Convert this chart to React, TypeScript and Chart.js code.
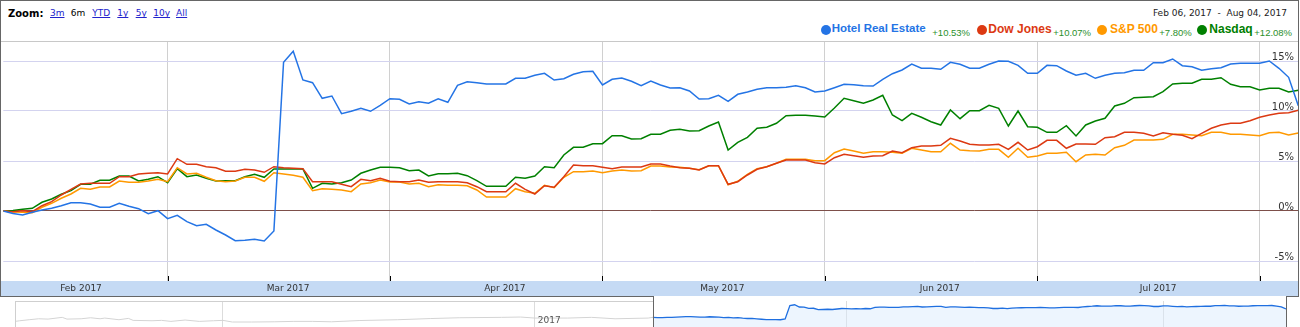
import React, { useEffect, useRef } from 'react';
import { Chart, registerables } from 'chart.js';

Chart.register(...registerables);

// ---------- data (percent change since Feb 06, 2017; one value per trading session) ----------
const hotelRealEstate = [
  0, -0.25, -0.4, -0.13, 0.1, 0.27, 0.53, 0.83, 0.83, 0.7,
  0.37, 0.37, 0.77, 0.47, 0.23, -0.27, 0.03, -0.77, -0.43, -1.07,
  -1.47, -1.33, -1.9, -2.4, -2.97, -2.93, -2.83, -3.0, -2.0, 14.87,
  15.97, 13.1, 12.83, 11.27, 11.5, 9.73, 9.97, 10.27, 9.97, 10.57,
  11.23, 11.17, 10.7, 10.93, 10.77, 11.23, 10.87, 12.57, 12.93, 12.83,
  12.7, 12.7, 12.7, 13.27, 13.27, 13.57, 13.77, 13.1, 13.23, 13.67,
  13.93, 13.97, 12.6, 13.17, 13.3, 12.97, 12.53, 13.0, 12.6, 12.3,
  12.33, 12.0, 11.2, 11.23, 11.57, 10.97, 11.67, 11.9, 12.17, 12.33,
  12.33, 12.37, 12.53, 12.33, 11.9, 12.0, 12.33, 12.67, 12.63, 12.53,
  12.5, 13.17, 13.73, 14.1, 14.7, 14.27, 14.27, 14.17, 14.87, 14.67,
  14.27, 14.27, 14.67, 15.0, 14.97, 14.57, 13.77, 13.77, 14.57, 14.53,
  14.0, 13.57, 13.77, 13.27, 13.57, 13.77, 13.83, 14.07, 14.07, 14.83,
  14.83, 15.2, 14.53, 14.43, 14.07, 14.23, 14.33, 14.7, 14.77, 14.77,
  14.77, 15.0, 14.27, 13.37, 10.53,
];
const dowJones = [
  0, -0.07, 0.03, -0.07, 0.53, 0.93, 1.6, 2.17, 2.7, 2.77,
  2.77, 2.77, 3.43, 3.43, 3.7, 3.77, 3.83, 3.7, 5.23, 4.67,
  4.67, 4.43, 4.33, 3.97, 3.97, 4.17, 4.1, 3.87, 4.43, 4.33,
  4.27, 4.23, 2.93, 2.93, 2.93, 2.67, 2.43, 3.17, 3.03, 3.27,
  2.97, 2.93, 2.93, 3.1, 2.87, 2.93, 2.93, 2.93, 2.83, 2.43,
  1.93, 1.93, 1.93, 2.77, 2.17, 1.7, 2.53, 2.37, 3.43, 4.6,
  4.53, 4.53, 4.37, 4.23, 4.4, 4.4, 4.4, 4.7, 4.7, 4.5,
  4.33, 4.27, 4.1, 4.53, 4.53, 2.67, 2.93, 3.6, 4.17, 4.43,
  4.77, 5.1, 5.1, 5.1, 4.83, 4.7, 5.33, 5.67, 5.53, 5.37,
  5.5, 5.53, 6.0, 5.83, 6.33, 6.5, 6.5, 6.57, 7.27, 7.0,
  6.67, 6.6, 6.6, 6.67, 6.17, 6.87, 6.1, 6.43, 7.07, 7.07,
  6.27, 6.7, 6.7, 6.67, 7.33, 7.43, 7.87, 7.87, 7.77, 7.5,
  7.83, 7.67, 7.57, 7.23, 7.77, 8.27, 8.6, 8.77, 8.77, 9.03,
  9.37, 9.6, 9.77, 9.83, 10.07,
];
const sp500 = [
  0, -0.1, -0.13, -0.17, 0.37, 0.77, 1.27, 1.7, 2.27, 2.17,
  2.4, 2.4, 3.0, 2.87, 2.87, 3.0, 3.17, 2.93, 4.33, 3.7,
  3.77, 3.37, 3.03, 2.93, 3.0, 3.37, 3.37, 2.97, 3.83, 3.7,
  3.57, 3.37, 2.03, 2.23, 2.17, 2.1, 1.93, 2.7, 2.83, 3.1,
  2.9, 2.9, 2.7, 2.77, 2.43, 2.63, 2.57, 2.57, 2.53, 2.1,
  1.4, 1.4, 1.4, 2.23, 1.93, 1.77, 2.57, 2.33, 3.37, 3.93,
  3.93, 4.0, 3.83, 4.0, 4.1, 4.0, 4.03, 4.5, 4.5, 4.4,
  4.37, 4.27, 4.13, 4.53, 4.53, 2.63, 2.97, 3.67, 4.23, 4.43,
  4.77, 5.17, 5.17, 5.17, 5.03, 5.03, 5.83, 6.2, 6.0, 5.77,
  5.93, 5.93, 5.87, 5.77, 6.27, 6.1, 5.93, 5.93, 6.77, 6.1,
  6.03, 6.0, 6.17, 6.17, 5.37, 6.27, 5.37, 5.5, 5.77, 5.77,
  5.87, 4.93, 5.6, 5.67, 5.6, 6.33, 6.57, 7.1, 7.1, 7.1,
  7.17, 7.67, 7.67, 7.6, 7.53, 7.87, 7.87, 7.67, 7.67, 7.6,
  7.53, 7.83, 7.87, 7.6, 7.8,
];
const nasdaq = [
  0, 0.05, 0.17, 0.27, 0.87, 1.2, 1.67, 2.03, 2.67, 2.67,
  3.07, 3.07, 3.5, 3.5, 3.0, 3.17, 3.43, 2.83, 4.23, 3.43,
  3.6, 3.27, 3.0, 3.03, 3.03, 3.43, 3.67, 3.37, 4.2, 4.2,
  4.2, 4.2, 2.27, 2.77, 2.7, 2.83, 3.1, 3.77, 4.1, 4.37,
  4.37, 4.33, 4.03, 4.1, 3.5, 3.73, 3.73, 3.77, 3.53, 3.03,
  2.47, 2.47, 2.47, 3.37, 3.27, 3.5, 4.43, 4.33, 5.6, 6.37,
  6.37, 6.73, 6.73, 7.53, 7.53, 7.2, 7.23, 7.67, 7.67, 8.07,
  8.17, 8.0, 8.03, 8.5, 8.9, 6.1, 6.87, 7.37, 8.27, 8.37,
  8.77, 9.53, 9.57, 9.57, 9.5, 9.4, 10.3, 11.27, 11.03, 10.77,
  11.1, 11.57, 9.6, 9.03, 9.77, 9.37, 8.93, 8.6, 10.1, 9.23,
  10.03, 10.03, 10.57, 10.27, 8.5, 10.0, 8.43, 8.37, 7.87, 7.87,
  8.53, 7.5, 8.6, 9.0, 9.27, 10.5, 10.77, 11.33, 11.37, 11.43,
  11.93, 12.7, 12.77, 12.77, 13.17, 13.17, 13.33, 12.67, 12.43, 12.43,
  12.1, 12.27, 12.27, 11.9, 12.08,
];

const seriesNames = ['Hotel Real Estate', 'Dow Jones', 'S&P 500', 'Nasdaq'];
const seriesChange = ['+10.53%', '+10.07%', '+7.80%', '+12.08%'];
const seriesColors = ['#2474e5', '#dc3912', '#ff9900', '#008000'];

// x axis: session index of the first session of each month, and where month names sit
const monthStartIdx = [17, 40, 62, 85, 107, 130];
const monthLabelIdx = [8.04, 29.46, 51.9, 74.4, 96.9, 119.5];
const monthLabels = ['Feb 2017', 'Mar 2017', 'Apr 2017', 'May 2017', 'Jun 2017', 'Jul 2017'];
const yTicks = [-5, 0, 5, 10, 15];

const zoomLinks = ['3m', '6m', 'YTD', '1y', '5y', '10y', 'All'];
const dateRange = 'Feb 06, 2017  -  Aug 04, 2017';

// navigator: earlier history (session index before Feb 06) and quarter marks
const navPrevIdx = [-135, -134, -132, -130, -128, -125, -124, -121, -119, -117, -116, -113, -111, -110, -106, -104, -102, -99, -96, -93, -91, -89, -85, -80, -76, -72, -68, -62, -54, -47, -41, -32, -28, -25, -18, -13, -8, -1, 0];
const navPrevVal = [-5.1, -4.3, -3.0, -1.8, -2.2, 0, -2.2, -1.8, -0.5, -1.8, -0.9, -3.0, -1.3, -3.8, -4.3, -3.8, -5.1, -3.4, -5.1, -4.3, -3.8, -5.9, -5.9, -5.6, -5.1, -5.1, -5.6, -4.0, -3.0, -1.5, -0.5, 0, 0.4, -0.9, -0.9, 0, -1.8, -0.9, 0];
const navQuarterIdx = [-91, -25, 41, 108];
const navYearIdx = -25;
const navYearLabel = '2017';

const FONT = "'DejaVu Sans', Verdana, sans-serif";
const LEG_FONT = "'Liberation Sans', Arial, sans-serif";

const monthTickMarks = {
  id: 'monthTickMarks',
  afterDatasetsDraw(chart: any) {
    const { ctx, chartArea, scales } = chart;
    ctx.save();
    ctx.strokeStyle = '#000';
    ctx.lineWidth = 1;
    monthStartIdx.forEach((v) => {
      const px = Math.round(scales.x.getPixelForValue(v)) + 0.5;
      ctx.beginPath();
      ctx.moveTo(px, chartArea.bottom - 5);
      ctx.lineTo(px, chartArea.bottom);
      ctx.stroke();
    });
    ctx.restore();
  },
};

const navYearText = {
  id: 'navYearText',
  afterDraw(chart: any) {
    const { ctx, scales } = chart;
    ctx.save();
    ctx.fillStyle = '#555';
    ctx.font = `9px ${FONT}`;
    ctx.textBaseline = 'alphabetic';
    ctx.fillText(navYearLabel, scales.x.getPixelForValue(navYearIdx) + 3, 22);
    ctx.restore();
  },
};

const noPad = (s: any) => { s.paddingTop = 0; s.paddingBottom = 0; s.paddingLeft = 0; s.paddingRight = 0; };

function MainChart() {
  const ref = useRef<HTMLCanvasElement>(null);
  useEffect(() => {
    const all = [hotelRealEstate, dowJones, sp500, nasdaq];
    const chart = new Chart(ref.current as HTMLCanvasElement, {
      type: 'line',
      data: {
        datasets: all.map((arr, k) => ({
          label: seriesNames[k],
          data: arr.map((y, i) => ({ x: i, y })),
          borderColor: seriesColors[k],
          borderWidth: 1.5,
          pointRadius: 0,
          tension: 0,
          fill: false,
        })),
      },
      options: {
        animation: false,
        responsive: true,
        maintainAspectRatio: false,
        events: [],
        layout: { autoPadding: false, padding: { left: 3.3, right: 1.7, top: 0, bottom: 0 } },
        plugins: { legend: { display: false }, tooltip: { enabled: false } },
        scales: {
          x: {
            type: 'linear', min: 0, max: 134, position: 'bottom',
            afterBuildTicks: (s: any) => { s.ticks = monthStartIdx.map((v) => ({ value: v })); },
            afterFit: (s: any) => { s.height = 0; noPad(s); },
            ticks: { display: false },
            grid: { color: '#d0d0d0', drawTicks: false },
            border: { display: false },
          },
          x2: {
            type: 'linear', min: 0, max: 134, position: 'bottom',
            afterBuildTicks: (s: any) => { s.ticks = monthLabelIdx.map((v) => ({ value: v })); },
            afterFit: (s: any) => { s.height = 15; noPad(s); },
            ticks: {
              autoSkip: false, maxRotation: 0, padding: 2, color: '#333',
              font: { size: 9, family: FONT },
              callback: (_v: any, i: number) => monthLabels[i],
            },
            grid: { display: false, drawTicks: false },
            border: { display: false },
          },
          y: {
            type: 'linear', position: 'right', min: -7, max: 17,
            afterBuildTicks: (s: any) => { s.ticks = yTicks.map((v) => ({ value: v })); },
            afterFit: (s: any) => { s.width = 0; noPad(s); },
            ticks: {
              mirror: true, padding: -4.3, labelOffset: -3.5, color: '#333',
              font: { size: 10, family: FONT },
              callback: (v: any) => `${v}%`,
            },
            grid: {
              color: (c: any) => (c.tick && c.tick.value === 0 ? '#7d4f4a' : '#d3d3ef'),
              drawTicks: false,
            },
            border: { display: false },
          },
        },
      } as any,
      plugins: [monthTickMarks],
    });
    return () => chart.destroy();
  }, []);
  return <canvas ref={ref} />;
}

function Navigator() {
  const ref = useRef<HTMLCanvasElement>(null);
  useEffect(() => {
    const chart = new Chart(ref.current as HTMLCanvasElement, {
      type: 'line',
      data: {
        datasets: [
          {
            data: hotelRealEstate.map((y, i) => ({ x: i, y })),
            borderColor: '#1f6fe0',
            borderWidth: 1.3,
            pointRadius: 0,
            tension: 0,
            fill: 'start',
            backgroundColor: 'rgba(214, 232, 252, 0.45)',
          },
          {
            data: navPrevIdx.map((x, i) => ({ x, y: navPrevVal[i] })),
            borderColor: '#d4d4d4',
            borderWidth: 1,
            pointRadius: 0,
            tension: 0,
            fill: false,
          },
        ],
      },
      options: {
        animation: false,
        responsive: true,
        maintainAspectRatio: false,
        events: [],
        layout: { autoPadding: false, padding: 0 },
        plugins: { legend: { display: false }, tooltip: { enabled: false } },
        scales: {
          x: {
            type: 'linear', min: -135, max: 134,
            afterBuildTicks: (s: any) => { s.ticks = navQuarterIdx.map((v) => ({ value: v })); },
            afterFit: (s: any) => { s.height = 0; noPad(s); },
            ticks: { display: false },
            grid: { color: '#dcdcdc', drawTicks: false },
            border: { display: false },
          },
          y: { type: 'linear', min: -12.2, max: 20.7, display: false },
        },
      } as any,
      plugins: [navYearText],
    });
    return () => chart.destroy();
  }, []);
  return <canvas ref={ref} />;
}

const abs = (s: React.CSSProperties): React.CSSProperties => ({ position: 'absolute', whiteSpace: 'nowrap', lineHeight: 1, ...s });

const linkLeft = [50, 70.7, 92.3, 117.3, 135.7, 153.3, 176];
const legendDotX = [825.7, 981.7, 1102, 1202];
const legendNameX = [831.7, 988.3, 1110, 1209.3];
const legendPctX = [932.3, 1053.3, 1159.3, 1254.3];

export default function App() {
  useEffect(() => {
    document.body.style.margin = '0';
  }, []);
  const frame = '#666';
  return (
    <div style={{ position: 'absolute', left: 0, top: 0, width: 1300, height: 327, background: '#fff', overflow: 'hidden' }}>
      {/* header */}
      <div style={abs({ left: 8, top: 8.5, fontFamily: FONT, fontSize: 10, fontWeight: 'bold', color: '#000' })}>Zoom:</div>
      {zoomLinks.map((t, i) => (
        <div key={t} style={abs({ left: linkLeft[i], top: 9.4, fontFamily: FONT, fontSize: 9, color: t === '6m' ? '#000' : '#2222cc', textDecoration: t === '6m' ? 'none' : 'underline' })}>{t}</div>
      ))}
      <div style={abs({ right: 13, top: 9.1, fontFamily: FONT, fontSize: 9, color: '#222', whiteSpace: 'pre' })}>{dateRange}</div>
      {seriesNames.map((n, k) => (
        <React.Fragment key={n}>
          <div style={abs({ left: legendDotX[k] - 5, top: 25, width: 10, height: 10, borderRadius: 5, background: seriesColors[k] })} />
          <div style={abs({ left: legendNameX[k], top: k === 0 ? 23.3 : 22.8, fontFamily: LEG_FONT, fontSize: k === 0 ? 11.5 : 12, fontWeight: 'bold', color: seriesColors[k] })}>{n}</div>
          <div style={abs({ left: legendPctX[k], top: 27.7, fontFamily: LEG_FONT, fontSize: 9.5, color: '#2b8f2b' })}>{seriesChange[k]}</div>
        </React.Fragment>
      ))}

      {/* axis band */}
      <div style={abs({ left: 1, top: 281, width: 1297, height: 15, background: '#c5daf4' })} />
      {/* main chart */}
      <div style={{ position: 'absolute', left: 0, top: 41, width: 1300, height: 255 }}>
        <MainChart />
      </div>
      <div style={abs({ left: 1, top: 41, width: 1297, height: 1, background: '#c8c8c8' })} />

      {/* navigator */}
      <div style={{ position: 'absolute', left: 15, top: 301, width: 1271, height: 26 }}>
        <Navigator />
      </div>
      <div style={abs({ left: 15, top: 301, width: 638, height: 1, background: '#cfcfcf' })} />
      <div style={abs({ left: 15, top: 301, width: 1, height: 26, background: '#cfcfcf' })} />

      {/* frame */}
      <div style={abs({ left: 0, top: 0, width: 1299, height: 1, background: frame })} />
      <div style={abs({ left: 0, top: 0, width: 1, height: 297, background: frame })} />
      <div style={abs({ left: 1298, top: 0, width: 1, height: 297, background: frame })} />
      <div style={abs({ left: 0, top: 296, width: 654, height: 1, background: frame })} />
      <div style={abs({ left: 1286, top: 296, width: 13, height: 1, background: frame })} />
      <div style={abs({ left: 653, top: 296, width: 1, height: 31, background: frame })} />
      <div style={abs({ left: 1286, top: 296, width: 1, height: 31, background: frame })} />
    </div>
  );
}
